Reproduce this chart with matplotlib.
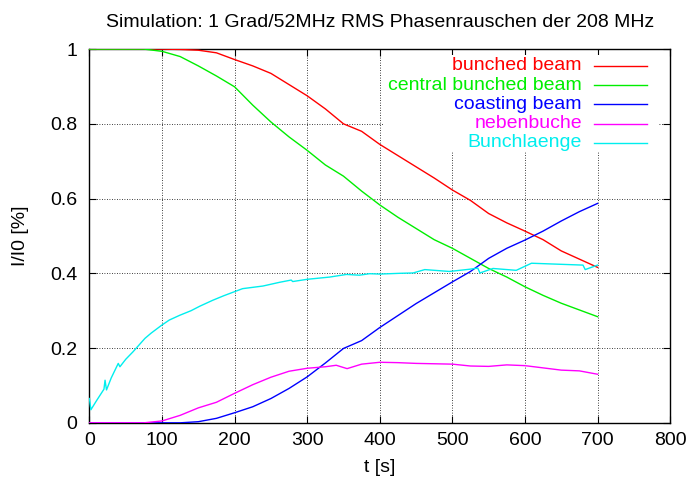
import matplotlib.pyplot as plt
from matplotlib.patches import Rectangle
from matplotlib.ticker import FormatStrFormatter

plt.rcParams['font.family'] = ['Liberation Sans', 'DejaVu Sans']

# time grid shared by bunched / central / coasting
t = [0, 25, 50, 75, 100, 125, 150, 175, 200, 225, 250, 275, 300, 325, 350,
     375, 400, 425, 450, 475, 500, 525, 550, 575, 600, 625, 650, 675, 700]

bunched = [1.0, 1.0, 1.0, 1.0, 1.0, 0.999, 0.997, 0.99, 0.972, 0.955, 0.935,
           0.905, 0.875, 0.84, 0.80, 0.78, 0.745, 0.715, 0.685, 0.655, 0.623,
           0.595, 0.56, 0.535, 0.513, 0.49, 0.46, 0.438, 0.416]

central = [1.0, 1.0, 1.0, 1.0, 0.994, 0.98, 0.955, 0.928, 0.899, 0.85, 0.805,
           0.765, 0.729, 0.69, 0.66, 0.62, 0.583, 0.55, 0.52, 0.49, 0.467,
           0.44, 0.413, 0.39, 0.364, 0.341, 0.32, 0.302, 0.284]

coasting = [0.0, 0.0, 0.0, 0.0, 0.0, 0.0, 0.003, 0.012, 0.027, 0.043, 0.065,
            0.092, 0.123, 0.16, 0.199, 0.22, 0.255, 0.287, 0.319, 0.348, 0.377,
            0.405, 0.44, 0.467, 0.489, 0.513, 0.54, 0.565, 0.587]

t_neben = [0, 25, 50, 75, 100, 125, 150, 175, 200, 225, 250, 275, 300, 325,
           340, 355, 375, 400, 425, 450, 475, 500, 525, 550, 575, 600, 625,
           650, 675, 700]
neben = [0.0, 0.0, 0.0, 0.0, 0.005, 0.02, 0.04, 0.055, 0.079, 0.102, 0.122,
         0.138, 0.146, 0.15, 0.154, 0.145, 0.157, 0.162, 0.161, 0.159, 0.158,
         0.157, 0.152, 0.151, 0.155, 0.153, 0.147, 0.141, 0.139, 0.13]

t_bl = [0, 2, 10, 20, 21.5, 23.5, 30, 39.7, 42, 50, 60, 76.5, 85, 99.4, 110,
        124.7, 140, 152, 170, 185, 200, 211, 239, 262, 278, 280, 300, 331,
        354, 372, 386, 400, 427, 446, 462, 496, 524, 535, 538, 556, 588, 609,
        680, 683, 700]
bunchlaenge = [0.065, 0.035, 0.06, 0.09, 0.114, 0.088, 0.12, 0.159, 0.15,
               0.17, 0.19, 0.226, 0.24, 0.261, 0.275, 0.288, 0.30, 0.312,
               0.328, 0.34, 0.351, 0.359, 0.366, 0.376, 0.382, 0.378, 0.384,
               0.39, 0.397, 0.395, 0.399, 0.398, 0.40, 0.401, 0.41, 0.405,
               0.411, 0.414, 0.401, 0.413, 0.408, 0.427, 0.422, 0.41, 0.422]

series = [
    ("bunched beam", t, bunched, "#ff0000"),
    ("central bunched beam", t, central, "#00ee00"),
    ("coasting beam", t, coasting, "#0000ff"),
    ("nebenbuche", t_neben, neben, "#ff00ff"),
    ("Bunchlaenge", t_bl, bunchlaenge, "#00eeee"),
]

fig = plt.figure(figsize=(6.88, 4.86), dpi=100)
ax = fig.add_axes([0.130, 0.130, 0.844, 0.769])

for name, x, y, c in series:
    ax.plot(x, y, color=c, linewidth=1.0, zorder=3)

ax.set_xlim(0, 800)
ax.set_ylim(0, 1)
ax.set_xticks(range(0, 801, 100))
ax.set_yticks([0, 0.2, 0.4, 0.6, 0.8, 1.0])
ax.yaxis.set_major_formatter(FormatStrFormatter('%g'))
ax.tick_params(direction='in', top=True, right=True, length=5, width=0.8,
               labelsize=14)
ax.tick_params(axis='x', pad=6.5)
ax.tick_params(axis='y', pad=8.6)
ax.set_axisbelow(True)
ax.grid(True, color='black', linestyle=(0, (1, 2)), linewidth=0.6)
for s in ax.spines.values():
    s.set_linewidth(1.0)

ax.set_title("Simulation: 1 Grad/52MHz RMS Phasenrauschen der 208 MHz",
             fontsize=14, pad=16)
ax.set_xlabel("t [s]", fontsize=14, labelpad=7)
ax.set_ylabel("I/I0 [%]", fontsize=14, labelpad=15)

# gnuplot-style key: white box, right aligned text, line sample on the right
ax.add_patch(Rectangle((0.507, 0.724), 0.472, 0.26, transform=ax.transAxes,
                       facecolor='white', edgecolor='none', zorder=1))
row_y = [0.955, 0.903, 0.852, 0.800, 0.749]
for (name, x, y, c), ry in zip(series, row_y):
    ax.text(0.848, ry, name, transform=ax.transAxes, ha='right', va='center',
            color=c, fontsize=14, zorder=4)
    ax.plot([0.869, 0.960], [ry, ry], transform=ax.transAxes, color=c,
            linewidth=1.0, zorder=4)

fig.savefig("out.png", dpi=100)
